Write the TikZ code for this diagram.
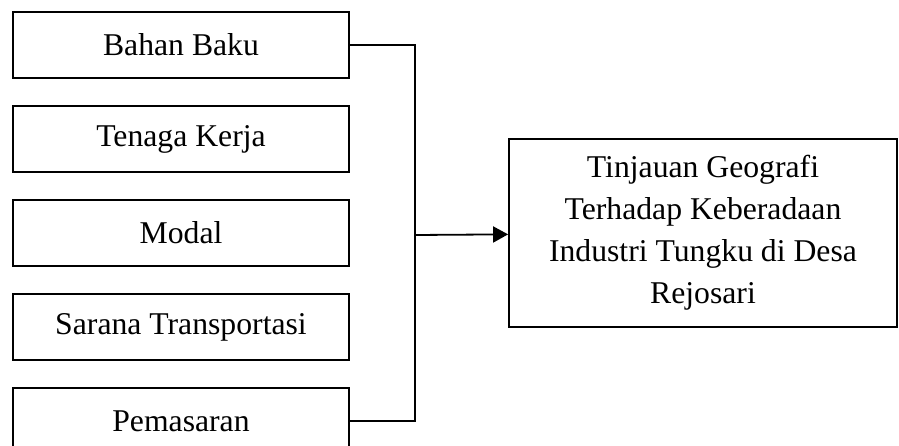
\documentclass[tikz,border=0pt]{standalone}
\usepackage{fontspec}
\setmainfont{Liberation Serif}
\usepackage{tikz}
\usetikzlibrary{shapes, arrows.meta}
\tikzstyle{boxes} = [rectangle, minimum width=168pt, minimum height=33pt, text centered, draw=black, line width=0.9pt, font=\fontsize{15.85}{21}\selectfont]
\tikzstyle{result} = [rectangle, minimum width=194pt, minimum height=94pt, align=center, draw=black, line width=0.9pt, font=\fontsize{15.85}{21}\selectfont]
\tikzstyle{line} = [line width=0.9pt, -]
\tikzstyle{arrow} = [line width=0.9pt, -{Triangle[length=7.5pt, width=8pt]}]

\begin{document}
\begin{tikzpicture}[node distance=47pt]

    \clip (0,0) rectangle (449.5pt,-222.5pt);

    \node (bahan) [boxes] at (90.5pt,-22.5pt) {Bahan Baku};
    \node (tenaga) [boxes, below of=bahan] {Tenaga Kerja};
    \node (modal) [boxes, below of=tenaga] {Modal};
    \node (sarana) [boxes, below of=modal] {Sarana Transportasi};
    \node (pemasaran) [boxes, below of=sarana] {Pemasaran};
    \node (tinjauan) [result] at (351.5pt,-116.5pt) {Tinjauan Geografi\\Terhadap Keberadaan\\Industri Tungku di Desa\\Rejosari};

    \coordinate (split) at (207.5pt,-117.5pt);

    \draw[line] (bahan.east) -| (split) |- (pemasaran.east);
    \draw[arrow] (split) -- (tinjauan);

    \end{tikzpicture}
\end{document}
